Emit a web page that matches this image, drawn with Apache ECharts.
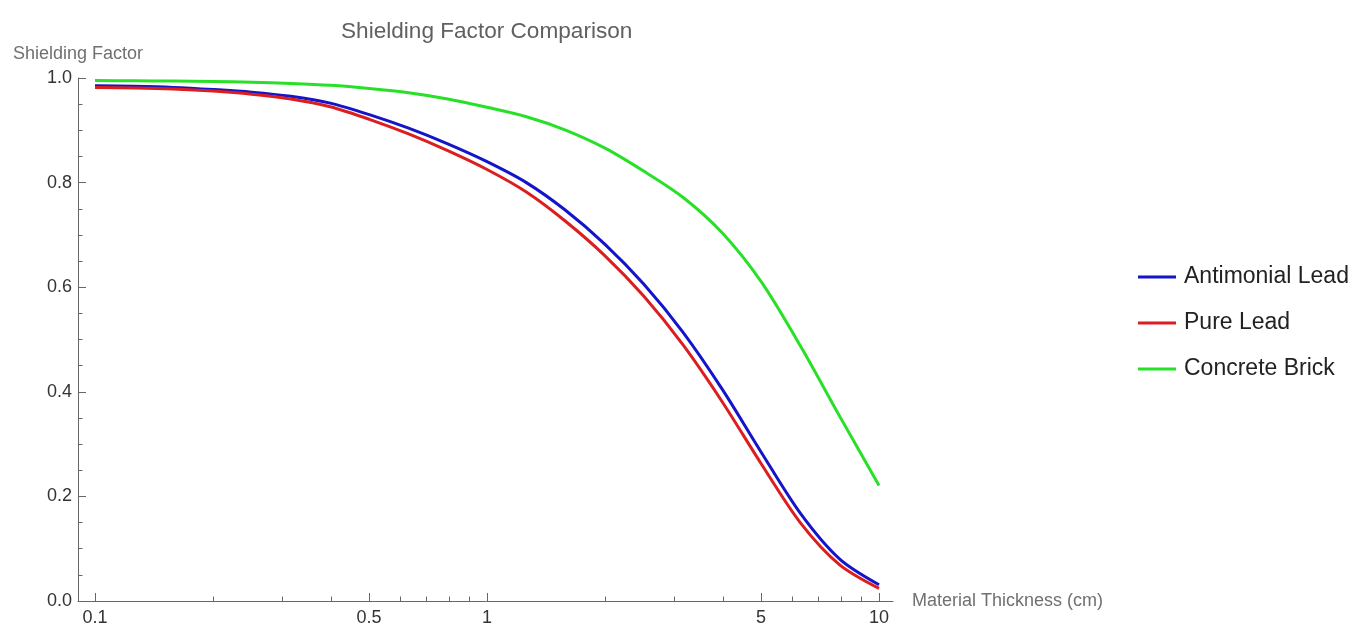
<!DOCTYPE html>
<html><head><meta charset="utf-8">
<script src="https://cdn.jsdelivr.net/npm/echarts@6/dist/echarts.min.js"></script>
<style>html,body{margin:0;padding:0;background:#fff}#c{width:1363px;height:627px}</style>
</head><body><div id="c"></div>
<script>
// Material thickness (cm) sample points
const thickness = [0.1, 0.126, 0.158, 0.2, 0.251, 0.316, 0.398, 0.501, 0.631, 0.794, 1, 1.26, 1.58, 2, 2.51, 3.16, 3.98, 5.01, 6.31, 7.94, 10];
const antimonialLead = [0.985, 0.984, 0.982, 0.978, 0.973, 0.965, 0.952, 0.930, 0.904, 0.874, 0.840, 0.800, 0.748, 0.682, 0.606, 0.514, 0.405, 0.284, 0.167, 0.080, 0.031];
const pureLead       = [0.982, 0.981, 0.979, 0.975, 0.969, 0.960, 0.945, 0.921, 0.893, 0.861, 0.825, 0.782, 0.727, 0.660, 0.583, 0.490, 0.381, 0.262, 0.149, 0.069, 0.024];
const concreteBrick  = [0.995, 0.9947, 0.9942, 0.9933, 0.9918, 0.9895, 0.986, 0.980, 0.972, 0.960, 0.944, 0.926, 0.901, 0.866, 0.822, 0.772, 0.704, 0.610, 0.487, 0.353, 0.221];
const seriesNames = ['Antimonial Lead', 'Pure Lead', 'Concrete Brick'];
const xTickValues = [0.1, 0.5, 1, 5, 10];
const xTickLabels = ['0.1', '0.5', '1', '5', '10'];
const xMinorTicks = [0.2, 0.3, 0.4, 0.6, 0.7, 0.8, 0.9, 2, 3, 4, 6, 7, 8, 9];

const FONT = 'Liberation Sans, Arial, sans-serif';
const lg = v => Math.log10(v);
const toPts = arr => thickness.map((t, i) => [lg(t), arr[i]]);
const xMin = -1.0434, xMax = 1.0357;

const chart = echarts.init(document.getElementById('c'), null, {renderer: 'canvas'});
const axisColor = '#666';
const lineSeries = (name, arr, color) => ({
  name, type: 'line', data: toPts(arr), xAxisIndex: 0, yAxisIndex: 0,
  symbol: 'none', showSymbol: false, smooth: 0.3,
  lineStyle: {color, width: 3}, itemStyle: {color}
});
chart.setOption({
  animation: false,
  backgroundColor: '#fff',
  title: {
    text: 'Shielding Factor Comparison', left: 336, top: 15,
    textStyle: {fontFamily: FONT, fontSize: 22.6, fontWeight: 'normal', color: '#606060', lineHeight: 23}
  },
  legend: {
    orient: 'vertical', left: 1133, top: 260,
    icon: 'rect', itemWidth: 38, itemHeight: 3, itemGap: 22,
    textStyle: {fontFamily: FONT, fontSize: 23, color: '#222', lineHeight: 24, padding: [0, 0, 0, 3]},
    data: seriesNames
  },
  grid: {left: 78, right: 470, top: 78, bottom: 25, containLabel: false},
  xAxis: [{
    type: 'value', min: xMin, max: xMax,
    name: 'Material Thickness (cm)', nameLocation: 'end', nameGap: 19,
    nameTextStyle: {fontFamily: FONT, fontSize: 18, color: '#707070', verticalAlign: 'middle', align: 'left'},
    axisLine: {show: true, onZero: false, lineStyle: {color: axisColor, width: 1}},
    axisTick: {show: true, inside: true, length: 8, customValues: xTickValues.map(lg), lineStyle: {color: axisColor}},
    axisLabel: {
      show: true, customValues: xTickValues.map(lg), margin: 8,
      fontFamily: FONT, fontSize: 18, color: '#333',
      formatter: v => {
        let best = 0;
        xTickValues.forEach((t, i) => { if (Math.abs(lg(t) - v) < Math.abs(lg(xTickValues[best]) - v)) best = i; });
        return xTickLabels[best];
      }
    },
    splitLine: {show: false}
  }, {
    type: 'value', min: xMin, max: xMax, position: 'bottom', gridIndex: 0,
    axisLine: {show: false, onZero: false},
    axisTick: {show: true, inside: true, length: 4.5, customValues: xMinorTicks.map(lg), lineStyle: {color: axisColor}},
    axisLabel: {show: false},
    splitLine: {show: false}
  }],
  yAxis: {
    type: 'value', min: 0, max: 1, interval: 0.2,
    name: 'Shielding Factor', nameLocation: 'end', nameGap: 24,
    nameTextStyle: {fontFamily: FONT, fontSize: 18, color: '#707070', align: 'center', verticalAlign: 'middle'},
    axisLine: {show: true, onZero: false, lineStyle: {color: axisColor, width: 1}},
    axisTick: {show: true, inside: true, length: 8, lineStyle: {color: axisColor}},
    minorTick: {show: true, splitNumber: 4, length: 4.5, lineStyle: {color: axisColor}},
    axisLabel: {margin: 6, fontFamily: FONT, fontSize: 18, color: '#333', formatter: v => v.toFixed(1)},
    splitLine: {show: false}
  },
  series: [
    lineSeries(seriesNames[0], antimonialLead, '#1414c8'),
    lineSeries(seriesNames[1], pureLead, '#dc1e1e'),
    lineSeries(seriesNames[2], concreteBrick, '#28e028')
  ]
});
</script>
</body></html>
